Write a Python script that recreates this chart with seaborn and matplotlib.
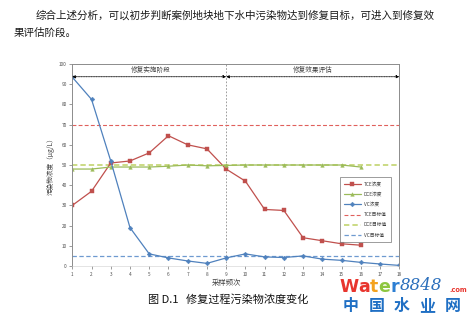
import matplotlib
matplotlib.use("Agg")
import matplotlib.pyplot as plt
import seaborn as sns
import pandas as pd

# Sampling rounds and measured concentrations (μg/L)
rounds = list(range(1, 19))
tce = [30, 37, 51, 52, 56, 64.5, 60, 58, 48, 42, 28, 27.5, 14, 12.5, 11, 10.3]
dce = [48, 48, 49, 49, 49, 49.4, 50, 49.6, 49.8, 50, 50, 50, 50, 50, 50, 49]
vc = [93.5, 82.5, 52, 19, 6, 4, 2.5, 1.3, 4, 6, 4.5, 4.2, 5, 3.4, 2.8, 1.8, 1, 0.3]

# Remediation targets (μg/L)
tce_target = 70
dce_target = 50
vc_target = 5

series_names = ["TCE浓度", "DCE浓度", "VC浓度"]
target_names = ["TCE目标值", "DCE目标值", "VC目标值"]
x_ticks = rounds
y_ticks = list(range(0, 101, 10))

sns.set_theme(style="white")
plt.rcParams["font.family"] = ["Noto Sans CJK SC", "DejaVu Sans"]
plt.rcParams["axes.unicode_minus"] = False

df = pd.concat([
    pd.DataFrame({"频次": rounds[:len(tce)], "浓度": tce, "指标": series_names[0]}),
    pd.DataFrame({"频次": rounds[:len(dce)], "浓度": dce, "指标": series_names[1]}),
    pd.DataFrame({"频次": rounds[:len(vc)], "浓度": vc, "指标": series_names[2]}),
])

colors = {"TCE浓度": "#C0504D", "DCE浓度": "#9BBB59", "VC浓度": "#4F81BD"}
markers = {"TCE浓度": "s", "DCE浓度": "^", "VC浓度": "D"}

fig = plt.figure(figsize=(4.7, 3.22), dpi=100)
fig.patch.set_facecolor("white")
ax = fig.add_axes([0.1538, 0.1739, 0.6957, 0.6273])

# Measured series
for name in series_names:
    sub = df[df["指标"] == name]
    sns.lineplot(data=sub, x="频次", y="浓度", ax=ax, color=colors[name],
                 marker=markers[name], markersize=2.6 if name != "VC浓度" else 2.4,
                 markeredgewidth=0.3, markeredgecolor=colors[name],
                 linewidth=0.9, label=name, legend=False)

# Target lines
ax.axhline(tce_target, color="#E0605C", ls=(0, (3.5, 2)), lw=0.8, label=target_names[0], zorder=1)
ax.axhline(dce_target, color="#BDD163", ls=(0, (3.5, 2)), lw=1.1, label=target_names[1], zorder=1)
ax.axhline(vc_target, color="#6E9AD0", ls=(0, (3.5, 2)), lw=0.9, label=target_names[2], zorder=1)

# Stage boundary
ax.axvline(9, color="#8C8C8C", ls=(0, (2, 2)), lw=0.6, zorder=0)

# Stage arrows and labels
arrow_kw = dict(arrowstyle="<|-|>", color="black", lw=0.6, ls=(0, (1, 1)),
                mutation_scale=4, shrinkA=0, shrinkB=0)
ax.annotate("", xy=(1, 93.7), xytext=(9, 93.7), arrowprops=arrow_kw)
ax.annotate("", xy=(9, 93.7), xytext=(18, 93.7), arrowprops=arrow_kw)
ax.text(5.1, 97, "修复实施阶段", ha="center", va="center", fontsize=4.8, color="#404040")
ax.text(13.5, 97, "修复效果评估", ha="center", va="center", fontsize=4.8, color="#404040")

ax.set_xlim(1, 18)
ax.set_ylim(0, 100)
ax.set_xticks(x_ticks)
ax.set_yticks(y_ticks)
ax.tick_params(axis="both", labelsize=3.4, colors="#505050", length=2, width=0.4,
               pad=2, direction="out", left=True, bottom=True)
for side in ["left", "top", "right"]:
    ax.spines[side].set_color("#8C8C8C")
    ax.spines[side].set_linewidth(0.7)
ax.spines["bottom"].set_color("#D0D0D0")
ax.spines["bottom"].set_linewidth(0.4)

ax.set_xlabel("")
ax.set_ylabel("污染物浓度（μg/L）", fontsize=4.8, color="#404040", labelpad=3)
fig.text(227 / 470, 1 - 283 / 322, "采样频次", ha="center", va="center",
         fontsize=5.3, color="#404040")

leg = ax.legend(loc="upper left", bbox_to_anchor=(0.81, 0.45), fontsize=3.4,
                frameon=True, fancybox=False, edgecolor="#707070", handlelength=3.6,
                labelspacing=1.1, borderpad=0.9, handletextpad=0.6)
leg.get_frame().set_linewidth(0.6)
for t in leg.get_texts():
    t.set_color("#404040")

# Surrounding document text
fig.text(36 / 470, 1 - 15 / 322,
         "综合上述分析，可以初步判断案例地块地下水中污染物达到修复目标，可进入到修复效",
         ha="left", va="center", fontsize=7.6, color="#1a1a1a")
fig.text(14 / 470, 1 - 33 / 322, "果评估阶段。", ha="left", va="center",
         fontsize=7.6, color="#1a1a1a")
fig.text(228 / 470, 1 - 300 / 322, "图 D.1   修复过程污染物浓度变化", ha="center",
         va="center", fontsize=8, color="#111111")

# Site mark: coloured letters placed one after another
renderer = fig.canvas.get_renderer()
wm_letters = [("W", "#E8352E"), ("a", "#E8352E"), ("t", "#F3A21F"), ("e", "#8DC63F"), ("r", "#2D7FD3")]
x_px = 339
for ch, col in wm_letters:
    t = fig.text(x_px / 470, 1 - 287 / 322, ch, ha="left", va="center", fontsize=12.5,
                 fontweight="bold", color=col, family="DejaVu Sans")
    bb = t.get_window_extent(renderer=renderer)
    x_px += bb.width
fig.text((x_px + 1.5) / 470, 1 - 285 / 322, "8848", ha="left", va="center", fontsize=12,
         style="italic", color="#2A6EBB", family="DejaVu Serif")
fig.text(449 / 470, 1 - 289.5 / 322, ".com", ha="left", va="center", fontsize=4.8,
         fontweight="bold", color="#E8352E", family="DejaVu Sans")
for i, ch in enumerate("中国水业网"):
    fig.text((351 + i * 25.5) / 470, 1 - 306 / 322, ch, ha="center", va="center",
             fontsize=11.5, fontweight="bold", color="#1F6FC4")

fig.savefig("out.png", dpi=100)
